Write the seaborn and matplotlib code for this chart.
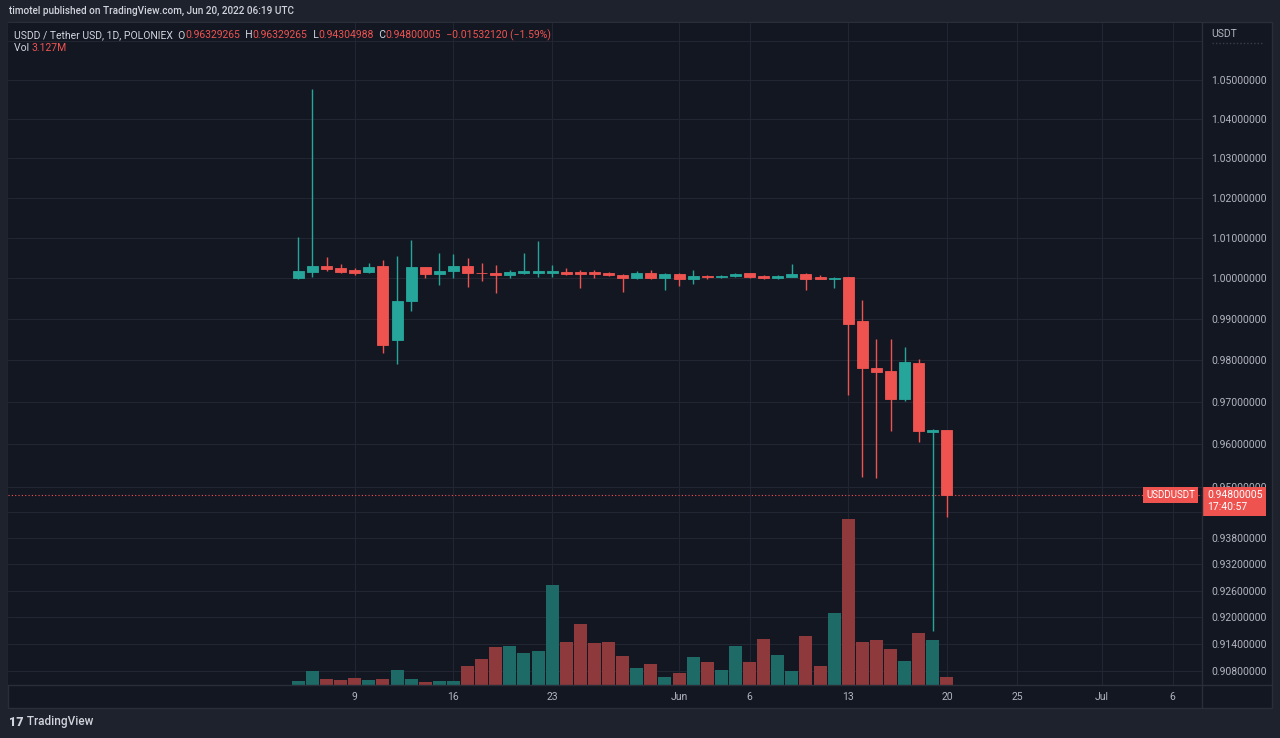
import pandas as pd
import seaborn as sns
import matplotlib.pyplot as plt
from matplotlib.lines import Line2D
from matplotlib.patches import Rectangle
from matplotlib.ticker import NullLocator

# Dados diários USDD/USDT (Poloniex), 5 mai - 20 jun 2022
dates = pd.date_range("2022-05-05", "2022-06-20", freq="D")
opens = [1.0000, 1.0016, 1.0031, 1.0025, 1.0020, 1.0015, 1.0029, 0.9849, 0.9944, 1.0027,
         1.0010, 1.0018, 1.0029, 1.0014, 1.0013, 1.0007, 1.0012, 1.0014, 1.0014, 1.0016,
         1.0015, 1.0015, 1.0013, 1.0009, 1.0001, 1.0014, 1.0001, 1.0011, 0.9998, 1.0006,
         1.0002, 1.0005, 1.0012, 1.0006, 1.0000, 1.0004, 1.0011, 1.0003, 0.9998, 1.0002,
         0.9896, 0.9782, 0.9774, 0.9707, 0.9793, 0.9628, 0.96329265]
highs = [1.0101, 1.0476, 1.0053, 1.0034, 1.0025, 1.0038, 1.0045, 1.0056, 1.0095, 1.0028,
         1.0063, 1.0061, 1.0049, 1.0037, 1.0033, 1.0020, 1.0062, 1.0093, 1.0033, 1.0026,
         1.0020, 1.0020, 1.0016, 1.0011, 1.0018, 1.0020, 1.0012, 1.0013, 1.0020, 1.0009,
         1.0008, 1.0014, 1.0014, 1.0009, 1.0009, 1.0035, 1.0014, 1.0009, 1.0003, 1.0002,
         0.9947, 0.9852, 0.9852, 0.9833, 0.9803, 0.9635, 0.96329265]
lows = [0.9998, 1.0004, 1.0018, 1.0014, 1.0008, 1.0013, 0.9817, 0.9791, 0.9921, 1.0001,
        0.9984, 1.0001, 0.9979, 0.9993, 0.9963, 1.0000, 1.0010, 1.0003, 1.0004, 1.0008,
        0.9977, 1.0001, 1.0005, 0.9967, 0.9999, 0.9999, 0.9971, 0.9982, 0.9986, 0.9998,
        1.0000, 1.0004, 1.0001, 0.9998, 0.9997, 1.0003, 0.9971, 0.9997, 0.9977, 0.9717,
        0.9522, 0.9520, 0.9630, 0.9703, 0.9606, 0.9169, 0.94304988]
closes = [1.0019, 1.0031, 1.0023, 1.0016, 1.0013, 1.0027, 0.9836, 0.9944, 1.0027, 1.0010,
          1.0019, 1.0029, 1.0012, 1.0012, 1.0008, 1.0015, 1.0018, 1.0017, 1.0017, 1.0011,
          1.0010, 1.0011, 1.0007, 1.0001, 1.0013, 1.0001, 1.0011, 0.9998, 1.0005, 1.0002,
          1.0006, 1.0011, 1.0003, 1.0000, 1.0006, 1.0010, 0.9999, 0.9998, 1.0001, 0.9888,
          0.9781, 0.9773, 0.9707, 0.9795, 0.9630, 0.96332125, 0.94800005]
# volume em milhões
volumes = [1.75, 5.8, 2.45, 2.0, 2.85, 2.0, 2.45, 6.2, 2.45, 1.35,
           1.75, 1.75, 7.6, 10.7, 15.6, 15.8, 13.0, 13.8, 40.5, 17.5,
           24.8, 16.9, 17.6, 11.8, 6.9, 8.4, 3.25, 5.0, 11.4, 9.3,
           6.2, 15.8, 9.3, 18.7, 12.1, 5.8, 19.9, 7.6, 29.1, 67.3,
           17.5, 18.1, 14.7, 9.6, 21.2, 18.1, 3.127]

tick_dates = ["2022-05-09", "2022-05-16", "2022-05-23", "2022-06-01", "2022-06-06",
              "2022-06-13", "2022-06-20", "2022-06-25", "2022-07-01", "2022-07-06"]
tick_labels = ["9", "16", "23", "Jun", "6", "13", "20", "25", "Jul", "6"]
price_ticks = [1.06, 1.05, 1.04, 1.03, 1.02, 1.01, 1.00, 0.99, 0.98, 0.97, 0.96, 0.95,
               0.944, 0.938, 0.932, 0.926, 0.920, 0.914, 0.908]

BG = "#131722"
OUTER = "#1e222d"
GRID = "#222632"
SEP = "#2a2e39"
UP = "#26a69a"
DOWN = "#ef5350"
TXT = "#b2b5be"
LEG = "#d1d4dc"

sns.set_theme(style="dark", rc={"axes.facecolor": BG, "figure.facecolor": OUTER,
                                "grid.color": GRID, "axes.edgecolor": BG})
plt.rcParams["font.family"] = ["Roboto", "DejaVu Sans"]

W, H = 1280, 738
fx = lambda px: px / W
fy = lambda py: 1 - py / H

df = pd.DataFrame({"date": dates, "open": opens, "high": highs, "low": lows,
                   "close": closes, "vol": volumes})
df["day"] = (df["date"] - dates[0]).dt.days
df["dir"] = ["up" if c >= o else "down" for o, c in zip(df["open"], df["close"])]
cores = df["dir"].map({"up": UP, "down": DOWN})

fig = plt.figure(figsize=(12.8, 7.38), dpi=100)
fig.patches.append(Rectangle((fx(8), fy(708)), fx(1272) - fx(8), fy(22) - fy(708),
                             transform=fig.transFigure, facecolor=BG, edgecolor=SEP,
                             lw=1, zorder=-10))
ax = fig.add_axes([fx(8), fy(685), fx(1202) - fx(8), fy(22.7) - fy(685)])

# velas
ax.set_yscale("log")
ax.vlines(df["day"], df["low"], df["high"], colors=cores, lw=1, zorder=3)
ax.bar(df["day"], (df["close"] - df["open"]).abs(), bottom=df[["open", "close"]].min(axis=1),
       width=0.78, color=cores, edgecolor=cores, lw=0.6, zorder=4)
ax.axhline(closes[-1], color=DOWN, ls=(0, (1, 2)), lw=0.8, zorder=2)

# volume
vax = ax.twinx()
sns.barplot(data=df, x="day", y="vol", hue="dir", palette={"up": "#1e6a66", "down": "#8e393b"},
            native_scale=True, width=0.92, saturation=1, errorbar=None, dodge=False,
            legend=False, linewidth=0, ax=vax)
vax.set_ylim(0, 268.9)
vax.set_yticks([])
vax.set_xlabel("")
vax.set_ylabel("")
for s in vax.spines.values():
    s.set_visible(False)

ax.set_ylim(0.90477, 1.0649)
ax.set_xlim(-20.59, 64.09)
ax.set_yticks(price_ticks, ["" if v > 1.055 else f"{v:.8f}" for v in price_ticks])
ax.yaxis.set_minor_locator(NullLocator())
ax.yaxis.tick_right()
tick_x = [(pd.Timestamp(d) - dates[0]).days for d in tick_dates]
ax.set_xticks(tick_x, tick_labels)
ax.tick_params(axis="y", length=0, pad=6.5, colors=TXT, labelsize=7.5)
ax.tick_params(axis="x", length=0, pad=5, colors=TXT, labelsize=7.5)
ax.grid(True, color=GRID, lw=0.8)
for s in ax.spines.values():
    s.set_visible(False)

# separadores
fig.add_artist(Line2D([fx(1202), fx(1202)], [fy(22), fy(708)], color=SEP, lw=1))
fig.add_artist(Line2D([fx(8), fx(1272)], [fy(685), fy(685)], color=SEP, lw=1))

# rótulos do último preço
ax.annotate("USDDUSDT", xy=(1, closes[-1]), xycoords=("axes fraction", "data"),
            xytext=(-7, 0), textcoords="offset pixels", ha="right", va="center",
            color="white", fontsize=7, annotation_clip=False, zorder=6,
            bbox=dict(boxstyle="square,pad=0.3", fc=DOWN, ec="none"))
ax.annotate(f"{closes[-1]:.8f}\n17:40:57", xy=(1, closes[-1]), xycoords=("axes fraction", "data"),
            xytext=(5, 5), textcoords="offset pixels", ha="left", va="top",
            color="white", fontsize=7.5, linespacing=1.2, annotation_clip=False, zorder=6,
            bbox=dict(boxstyle="square,pad=0.35", fc=DOWN, ec="none"))

# cabeçalho e legenda
fig.text(fx(9), fy(11), "timotel published on TradingView.com, Jun 20, 2022 06:19 UTC",
         va="center", color=LEG, fontsize=7.2, weight="medium")
fig.text(fx(1211), fy(34), "USDT", va="center", color=TXT, fontsize=7.5)
fig.add_artist(Line2D([fx(1212), fx(1262)], [fy(43), fy(43)], color="#3a3e4a", lw=1, ls=(0, (1, 1.5))))

variacao = closes[-1] - closes[-2]
partes = [("USDD / Tether USD, 1D, POLONIEX  O", LEG), (f"{opens[-1]:.8f}", DOWN),
          ("  H", LEG), (f"{highs[-1]:.8f}", DOWN), ("  L", LEG), (f"{lows[-1]:.8f}", DOWN),
          ("  C", LEG), (f"{closes[-1]:.8f}", DOWN),
          (f"  \u2212{abs(variacao):.8f} (\u2212{abs(variacao) / closes[-2] * 100:.2f}%)", DOWN)]
prev = fig.text(fx(14), fy(35), "", va="center", fontsize=7.5)
for txt, cor in partes:
    prev = ax.annotate(txt, xy=(1, 0.5), xycoords=prev, va="center", ha="left", color=cor,
                       fontsize=7.5, annotation_clip=False)
vol_txt = fig.text(fx(14), fy(48), "Vol ", va="center", color=LEG, fontsize=7.5)
ax.annotate(f"{volumes[-1]:.3f}M", xy=(1, 0.5), xycoords=vol_txt, va="center", ha="left",
            color=DOWN, fontsize=7.5, annotation_clip=False)

logo = fig.text(fx(9), fy(722), "17", va="center", color=LEG, fontsize=9, weight="black")
ax.annotate(" TradingView", xy=(1, 0.5), xycoords=logo, va="center", ha="left",
            color=LEG, fontsize=8.5, weight="medium", annotation_clip=False)

fig.savefig("out.png", dpi=100, facecolor=OUTER)
